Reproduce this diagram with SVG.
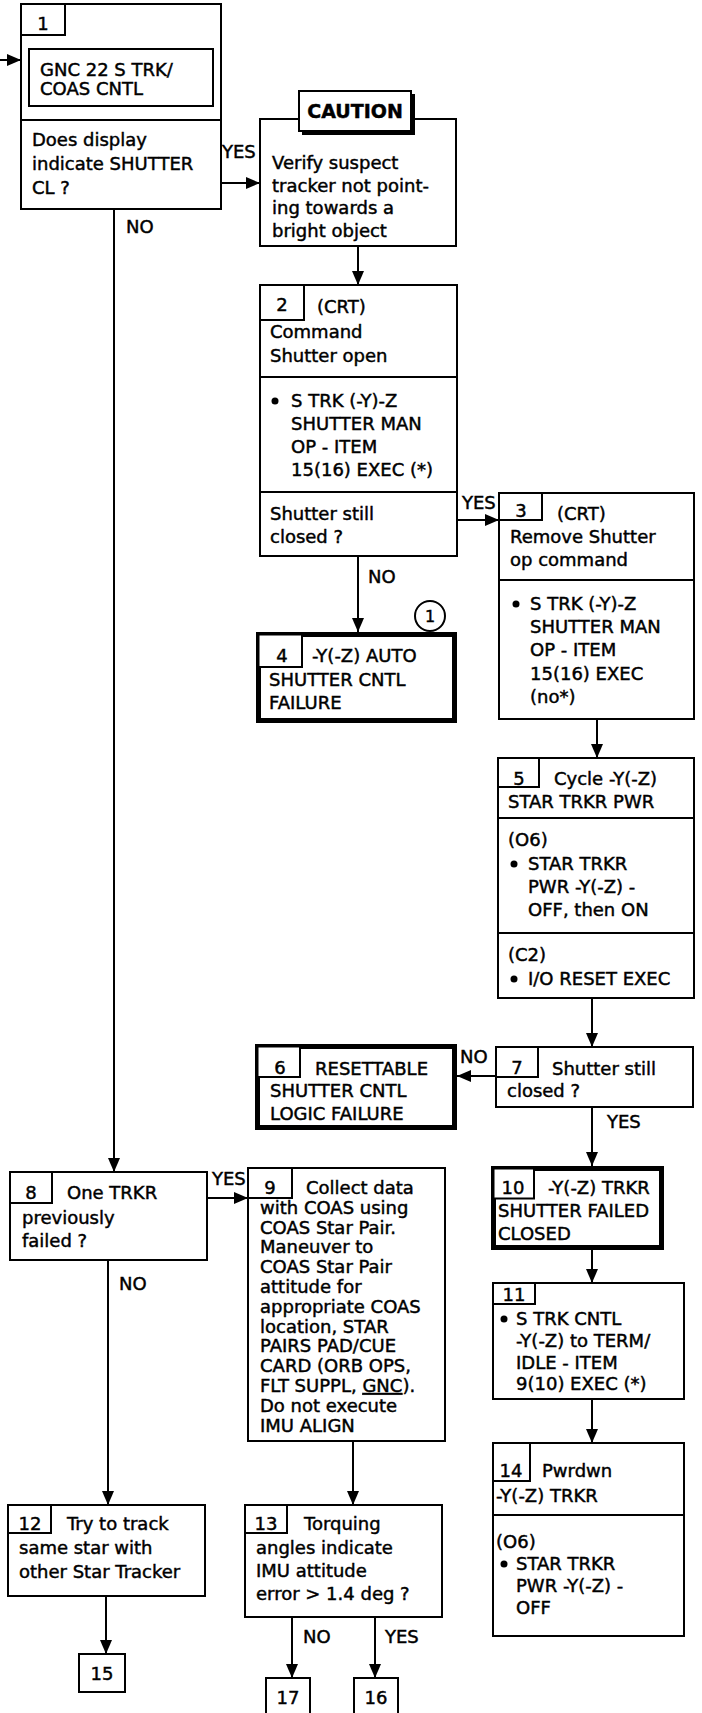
<svg xmlns="http://www.w3.org/2000/svg" width="702" height="1713" viewBox="0 0 702 1713">
<defs>
<style>
.box{fill:#fff;stroke:#000;stroke-width:2}
.bold{fill:#fff;stroke:#000;stroke-width:5}
.tab{fill:#fff;stroke:#000;stroke-width:2}
.div{stroke:#000;stroke-width:2}
.t{font-family:"DejaVu Sans",sans-serif;font-size:18px;fill:#000;stroke:#000;stroke-width:0.45}
.c{text-anchor:middle}
.cn{stroke:#000;stroke-width:2;fill:none;marker-end:url(#ah)}
.dot{fill:#000}
</style>
<marker id="ah" markerWidth="14" markerHeight="12" refX="14" refY="6" orient="auto" markerUnits="userSpaceOnUse">
<path d="M0,0 L14,6 L0,12 z" fill="#000"/>
</marker>
</defs>
<rect width="702" height="1713" fill="#fff"/>

<g id="connectors">
<line class="cn" x1="0" y1="60" x2="21" y2="60"/>
<line class="cn" x1="221" y1="183" x2="260" y2="183"/>
<line class="cn" x1="114" y1="209" x2="114" y2="1172"/>
<line class="cn" x1="358" y1="246" x2="358" y2="285"/>
<line class="cn" x1="457" y1="520" x2="499" y2="520"/>
<line class="cn" x1="358" y1="556" x2="358" y2="632"/>
<line class="cn" x1="597" y1="719" x2="597" y2="758"/>
<line class="cn" x1="592" y1="998" x2="592" y2="1047"/>
<line class="cn" x1="496" y1="1076" x2="457" y2="1076"/>
<line class="cn" x1="592" y1="1107" x2="592" y2="1166"/>
<line class="cn" x1="592" y1="1250" x2="592" y2="1283"/>
<line class="cn" x1="592" y1="1399" x2="592" y2="1443"/>
<line class="cn" x1="207" y1="1198" x2="248" y2="1198"/>
<line class="cn" x1="108" y1="1260" x2="108" y2="1505"/>
<line class="cn" x1="353" y1="1441" x2="353" y2="1505"/>
<line class="cn" x1="106" y1="1596" x2="106" y2="1654"/>
<line class="cn" x1="292" y1="1617" x2="292" y2="1678"/>
<line class="cn" x1="375" y1="1617" x2="375" y2="1678"/>
<text class="t" x="222" y="158">YES</text>
<text class="t" x="126" y="233">NO</text>
<text class="t" x="462" y="509">YES</text>
<text class="t" x="368" y="583">NO</text>
<text class="t" x="460" y="1063">NO</text>
<text class="t" x="607" y="1128">YES</text>
<text class="t" x="212" y="1185">YES</text>
<text class="t" x="119" y="1290">NO</text>
<text class="t" x="303" y="1643">NO</text>
<text class="t" x="385" y="1643">YES</text>
</g>

<g id="n1">
<rect class="box" x="21" y="4" width="200" height="205"/>
<line class="div" x1="21" y1="120" x2="221" y2="120"/>
<rect class="tab" x="21" y="4" width="44" height="31"/>
<text class="t c" x="43" y="30">1</text>
<rect class="box" x="29" y="49" width="184" height="57"/>
<text class="t" x="40" y="76">GNC 22 S TRK/</text>
<text class="t" x="40" y="95">COAS CNTL</text>
<text class="t" x="32" y="146">Does display</text>
<text class="t" x="32" y="170">indicate SHUTTER</text>
<text class="t" x="32" y="194">CL ?</text>
</g>

<g id="caution">
<rect class="box" x="260" y="119" width="196" height="127"/>
<rect x="302" y="94" width="113" height="41" fill="#000"/>
<rect class="tab" x="299" y="91" width="112" height="40"/>
<text class="t c" x="355" y="118" style="font-weight:bold;font-size:19px">CAUTION</text>
<text class="t" x="272" y="169">Verify suspect</text>
<text class="t" x="272" y="192">tracker not point-</text>
<text class="t" x="272" y="214">ing towards a</text>
<text class="t" x="272" y="237">bright object</text>
</g>

<g id="n2">
<rect class="box" x="260" y="285" width="197" height="271"/>
<line class="div" x1="260" y1="377" x2="457" y2="377"/>
<line class="div" x1="260" y1="492" x2="457" y2="492"/>
<rect class="tab" x="260" y="285" width="44" height="35"/>
<text class="t c" x="282" y="311">2</text>
<text class="t" x="317" y="313">(CRT)</text>
<text class="t" x="270" y="338">Command</text>
<text class="t" x="270" y="362">Shutter open</text>
<circle class="dot" cx="275" cy="401" r="3.5"/>
<text class="t" x="291" y="407">S TRK (-Y)-Z</text>
<text class="t" x="291" y="430">SHUTTER MAN</text>
<text class="t" x="291" y="453">OP - ITEM</text>
<text class="t" x="291" y="476">15(16) EXEC (*)</text>
<text class="t" x="270" y="520">Shutter still</text>
<text class="t" x="270" y="543">closed ?</text>
</g>

<g id="n3">
<rect class="box" x="499" y="493" width="195" height="226"/>
<line class="div" x1="499" y1="580" x2="694" y2="580"/>
<rect class="tab" x="499" y="493" width="43" height="27"/>
<text class="t c" x="521" y="517">3</text>
<text class="t" x="557" y="520">(CRT)</text>
<text class="t" x="510" y="543">Remove Shutter</text>
<text class="t" x="510" y="566">op command</text>
<circle class="dot" cx="516" cy="604" r="3.5"/>
<text class="t" x="530" y="610">S TRK (-Y)-Z</text>
<text class="t" x="530" y="633">SHUTTER MAN</text>
<text class="t" x="530" y="656">OP - ITEM</text>
<text class="t" x="530" y="680">15(16) EXEC</text>
<text class="t" x="530" y="703">(no*)</text>
</g>

<g id="n4">
<rect class="bold" x="258.5" y="634.5" width="196" height="86"/>
<rect class="tab" x="258.5" y="634.5" width="43.5" height="32.5"/>
<text class="t c" x="282" y="662">4</text>
<text class="t" x="312" y="662">-Y(-Z) AUTO</text>
<text class="t" x="269" y="686">SHUTTER CNTL</text>
<text class="t" x="269" y="709">FAILURE</text>
</g>

<g id="note1">
<circle cx="430" cy="616" r="15" fill="#fff" stroke="#000" stroke-width="2"/>
<text class="t c" x="430" y="622" style="font-size:16px">1</text>
</g>

<g id="n5">
<rect class="box" x="498" y="758" width="196" height="240"/>
<line class="div" x1="498" y1="818" x2="694" y2="818"/>
<line class="div" x1="498" y1="933" x2="694" y2="933"/>
<rect class="tab" x="498" y="758" width="41" height="29"/>
<text class="t c" x="519" y="785">5</text>
<text class="t" x="554" y="785">Cycle -Y(-Z)</text>
<text class="t" x="508" y="808">STAR TRKR PWR</text>
<text class="t" x="508" y="846">(O6)</text>
<circle class="dot" cx="514" cy="864" r="3.5"/>
<text class="t" x="528" y="870">STAR TRKR</text>
<text class="t" x="528" y="893">PWR -Y(-Z) -</text>
<text class="t" x="528" y="916">OFF, then ON</text>
<text class="t" x="508" y="961">(C2)</text>
<circle class="dot" cx="514" cy="979" r="3.5"/>
<text class="t" x="528" y="985">I/O RESET EXEC</text>
</g>

<g id="n6">
<rect class="bold" x="257.5" y="1046.5" width="197" height="81"/>
<rect class="tab" x="257.5" y="1046.5" width="42.5" height="30.5"/>
<text class="t c" x="280" y="1074">6</text>
<text class="t" x="315" y="1075">RESETTABLE</text>
<text class="t" x="270" y="1097">SHUTTER CNTL</text>
<text class="t" x="270" y="1120">LOGIC FAILURE</text>
</g>

<g id="n7">
<rect class="box" x="496" y="1047" width="197" height="60"/>
<rect class="tab" x="496" y="1047" width="42" height="30"/>
<text class="t c" x="517" y="1074">7</text>
<text class="t" x="552" y="1075">Shutter still</text>
<text class="t" x="507" y="1097">closed ?</text>
</g>

<g id="n8">
<rect class="box" x="10" y="1172" width="197" height="88"/>
<rect class="tab" x="10" y="1172" width="42" height="31"/>
<text class="t c" x="31" y="1199">8</text>
<text class="t" x="67" y="1199">One TRKR</text>
<text class="t" x="22" y="1224">previously</text>
<text class="t" x="22" y="1247">failed ?</text>
</g>

<g id="n9">
<rect class="box" x="248" y="1168" width="197" height="273"/>
<rect class="tab" x="248" y="1168" width="44" height="30"/>
<text class="t c" x="270" y="1194">9</text>
<text class="t" x="306" y="1194">Collect data</text>
<text class="t" x="260" y="1214">with COAS using</text>
<text class="t" x="260" y="1234">COAS Star Pair.</text>
<text class="t" x="260" y="1253">Maneuver to</text>
<text class="t" x="260" y="1273">COAS Star Pair</text>
<text class="t" x="260" y="1293">attitude for</text>
<text class="t" x="260" y="1313">appropriate COAS</text>
<text class="t" x="260" y="1333">location, STAR</text>
<text class="t" x="260" y="1352">PAIRS PAD/CUE</text>
<text class="t" x="260" y="1372">CARD (ORB OPS,</text>
<text class="t" x="260" y="1392">FLT SUPPL, <tspan text-decoration="underline">GNC</tspan>).</text>
<text class="t" x="260" y="1412">Do not execute</text>
<text class="t" x="260" y="1432">IMU ALIGN</text>
</g>

<g id="n10">
<rect class="bold" x="493.5" y="1168.5" width="168" height="79"/>
<rect class="tab" x="493.5" y="1168.5" width="40.5" height="30"/>
<text class="t c" x="513" y="1194">10</text>
<text class="t" x="548" y="1194">-Y(-Z) TRKR</text>
<text class="t" x="498" y="1217">SHUTTER FAILED</text>
<text class="t" x="498" y="1240">CLOSED</text>
</g>

<g id="n11">
<rect class="box" x="493" y="1283" width="191" height="116"/>
<rect class="tab" x="493" y="1283" width="42" height="21"/>
<text class="t c" x="514" y="1301">11</text>
<circle class="dot" cx="504" cy="1319" r="3.5"/>
<text class="t" x="516" y="1325">S TRK CNTL</text>
<text class="t" x="516" y="1347">-Y(-Z) to TERM/</text>
<text class="t" x="516" y="1369">IDLE - ITEM</text>
<text class="t" x="516" y="1390">9(10) EXEC (*)</text>
</g>

<g id="n12">
<rect class="box" x="8" y="1505" width="197" height="91"/>
<rect class="tab" x="8" y="1505" width="43" height="28"/>
<text class="t c" x="30" y="1530">12</text>
<text class="t" x="67" y="1530">Try to track</text>
<text class="t" x="19" y="1554">same star with</text>
<text class="t" x="19" y="1578">other Star Tracker</text>
</g>

<g id="n13">
<rect class="box" x="245" y="1505" width="197" height="112"/>
<rect class="tab" x="245" y="1505" width="42" height="28"/>
<text class="t c" x="266" y="1530">13</text>
<text class="t" x="304" y="1530">Torquing</text>
<text class="t" x="256" y="1554">angles indicate</text>
<text class="t" x="256" y="1577">IMU attitude</text>
<text class="t" x="256" y="1600">error &gt; 1.4 deg ?</text>
</g>

<g id="n14">
<rect class="box" x="493" y="1443" width="191" height="193"/>
<line class="div" x1="493" y1="1515" x2="684" y2="1515"/>
<rect class="tab" x="493" y="1443" width="37" height="38"/>
<text class="t c" x="511" y="1477">14</text>
<text class="t" x="542" y="1477">Pwrdwn</text>
<text class="t" x="496" y="1502">-Y(-Z) TRKR</text>
<text class="t" x="496" y="1548">(O6)</text>
<circle class="dot" cx="504" cy="1564" r="3.5"/>
<text class="t" x="516" y="1570">STAR TRKR</text>
<text class="t" x="516" y="1592">PWR -Y(-Z) -</text>
<text class="t" x="516" y="1614">OFF</text>
</g>

<g id="n15">
<rect class="box" x="79" y="1654" width="46" height="38"/>
<text class="t c" x="102" y="1680">15</text>
</g>

<g id="n17">
<rect class="box" x="266" y="1678" width="44" height="45"/>
<text class="t c" x="288" y="1704">17</text>
</g>

<g id="n16">
<rect class="box" x="354" y="1678" width="44" height="45"/>
<text class="t c" x="376" y="1704">16</text>
</g>
</svg>
